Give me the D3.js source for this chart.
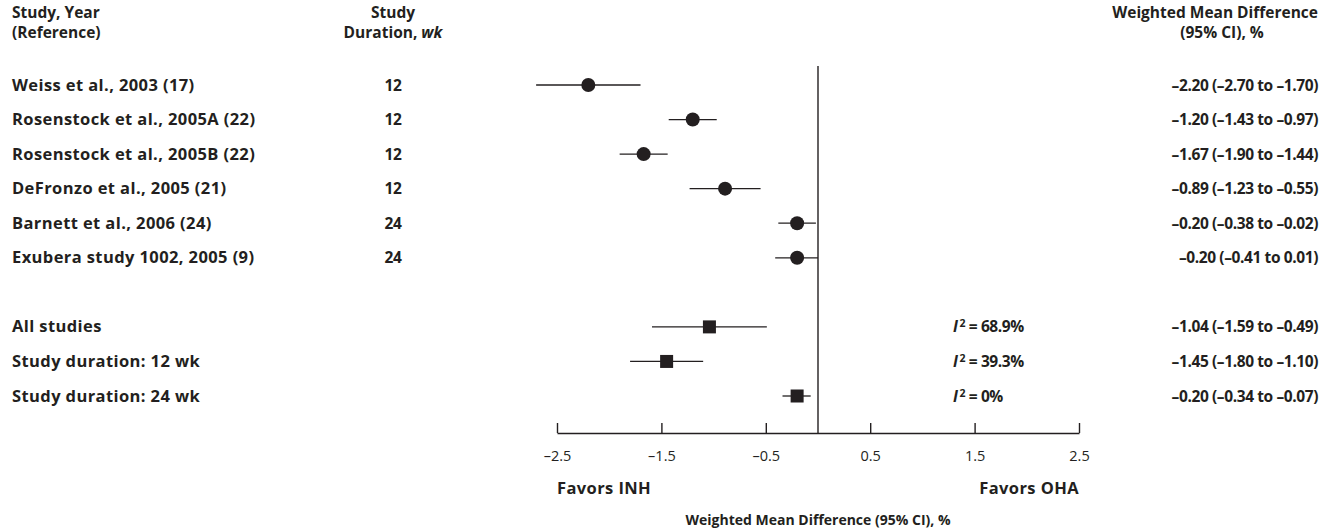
<!DOCTYPE html>
<html>
<head>
<meta charset="utf-8">
<script src="https://cdn.jsdelivr.net/npm/d3@7"></script>
<style>
  body { margin: 0; background: #fff; }
  text { font-family: "Open Sans", sans-serif; fill: #231f20; }
  .lbl { font-weight: 700; font-size: 16.5px; letter-spacing: 0.4px; }
  .hdr { font-weight: 700; font-size: 15.5px; }
  .num { font-weight: 700; font-size: 15.5px; letter-spacing: -0.4px; }
</style>
</head>
<body>
<div id="chart"></div>
<script>
// individual studies
var studies = ["Weiss et al., 2003 (17)", "Rosenstock et al., 2005A (22)", "Rosenstock et al., 2005B (22)",
  "DeFronzo et al., 2005 (21)", "Barnett et al., 2006 (24)", "Exubera study 1002, 2005 (9)"];
var durations = [12, 12, 12, 12, 24, 24];
var means = [-2.20, -1.20, -1.67, -0.89, -0.20, -0.20];
var lows = [-2.70, -1.43, -1.90, -1.23, -0.38, -0.41];
var highs = [-1.70, -0.97, -1.44, -0.55, -0.02, 0.01];

// pooled estimates
var pooled = ["All studies", "Study duration: 12 wk", "Study duration: 24 wk"];
var pooledI2 = ["68.9%", "39.3%", "0%"];
var pooledMeans = [-1.04, -1.45, -0.20];
var pooledLows = [-1.59, -1.80, -0.34];
var pooledHighs = [-0.49, -1.10, -0.07];

var tickValues = [-2.5, -1.5, -0.5, 0.5, 1.5, 2.5];

var width = 1335, height = 529;
var svg = d3.select("#chart").append("svg")
    .attr("width", width)
    .attr("height", height);

var x = d3.scaleLinear().domain([-2.5, 2.5]).range([557, 1079]);

// rows: 6 studies, a blank, then 3 pooled
var rowKeys = studies.concat(["gap"], pooled);
var y = d3.scalePoint().domain(rowKeys).range([85, 396]);

function fmt(v) {
  return (v < 0 ? "\u2013" : "") + Math.abs(v).toFixed(2);
}
function ciText(m, l, h) {
  return fmt(m) + " (" + fmt(l) + " to " + fmt(h) + ")";
}

var ink = "#231f20";

// header
var head = svg.append("g").attr("class", "hdr");
head.append("text").attr("x", 12).attr("y", 18).text("Study, Year");
head.append("text").attr("x", 12).attr("y", 38).text("(Reference)");
head.append("text").attr("x", 393).attr("y", 18).attr("text-anchor", "middle").text("Study");
var dur = head.append("text").attr("x", 393).attr("y", 38).attr("text-anchor", "middle");
dur.append("tspan").text("Duration, ");
dur.append("tspan").style("font-style", "italic").text("wk");
head.append("text").attr("x", 1318).attr("y", 18).attr("text-anchor", "end").text("Weighted Mean Difference");
head.append("text").attr("x", 1222).attr("y", 38).attr("text-anchor", "middle").text("(95% CI), %");

// zero line
svg.append("line")
    .attr("x1", x(0)).attr("x2", x(0))
    .attr("y1", 66).attr("y2", 433)
    .attr("stroke", ink).attr("stroke-width", 1.4);

// axis
var axis = svg.append("g")
    .attr("transform", "translate(0,433)")
    .call(d3.axisBottom(x).tickValues(tickValues).tickSize(10).tickSizeOuter(0)
      .tickFormat(function(d) { return (d < 0 ? "\u2013" : "") + Math.abs(d); }));
axis.select(".domain").attr("stroke", ink).attr("stroke-width", 1.4);
axis.selectAll(".tick line").attr("stroke", ink).attr("stroke-width", 1.4)
    .attr("y1", 0).attr("y2", -10);
axis.selectAll(".tick text").attr("y", 18).style("font-size", "14.5px")
    .style("font-family", "Open Sans, sans-serif").attr("fill", ink);

svg.append("text").attr("class", "lbl").attr("x", x(-2.5)).attr("y", 494).text("Favors INH");
svg.append("text").attr("class", "lbl").attr("x", x(2.5)).attr("y", 494).attr("text-anchor", "end").text("Favors OHA");
svg.append("text").attr("x", x(0)).attr("y", 525).attr("text-anchor", "middle").style("font-weight", 700)
    .style("font-size", "14px").text("Weighted Mean Difference (95% CI), %");

// study rows
var rows = svg.append("g").selectAll("g.study")
    .data(studies.map(function(s, i) {
      return {name: s, dur: durations[i], m: means[i], l: lows[i], h: highs[i]};
    }))
  .enter().append("g")
    .attr("transform", function(d) { return "translate(0," + y(d.name) + ")"; });

rows.append("text").attr("class", "lbl").attr("x", 12).attr("y", 5.5)
    .text(function(d) { return d.name; });
rows.append("text").attr("class", "num").attr("x", 393).attr("y", 5.5).attr("text-anchor", "middle")
    .text(function(d) { return d.dur; });
rows.append("line")
    .attr("x1", function(d) { return x(d.l); })
    .attr("x2", function(d) { return x(Math.min(d.h, 0)); })
    .attr("stroke", ink).attr("stroke-width", 1.3);
rows.append("circle").attr("cx", function(d) { return x(d.m); }).attr("r", 7).attr("fill", ink);
rows.append("text").attr("class", "num").attr("x", 1318).attr("y", 5.5).attr("text-anchor", "end")
    .text(function(d) { return ciText(d.m, d.l, d.h); });

// pooled rows
var prow = svg.append("g").selectAll("g.pooled")
    .data(pooled.map(function(s, i) {
      return {name: s, i2: pooledI2[i], m: pooledMeans[i], l: pooledLows[i], h: pooledHighs[i]};
    }))
  .enter().append("g")
    .attr("transform", function(d) { return "translate(0," + y(d.name) + ")"; });

prow.append("text").attr("class", "lbl").attr("x", 12).attr("y", 5.5)
    .text(function(d) { return d.name; });
prow.append("line")
    .attr("x1", function(d) { return x(d.l); })
    .attr("x2", function(d) { return x(d.h); })
    .attr("stroke", ink).attr("stroke-width", 1.3);
prow.append("rect")
    .attr("x", function(d) { return x(d.m) - 6.5; })
    .attr("y", -6.5).attr("width", 13).attr("height", 13).attr("fill", ink);
var i2 = prow.append("text").attr("class", "num").attr("x", 953).attr("y", 5.5);
i2.append("tspan").style("font-style", "italic").text("I");
i2.append("tspan").attr("dx", 2).attr("dy", -5).style("font-size", "10.5px").text("2");
i2.append("tspan").attr("dy", 5).text(function(d) { return " = " + d.i2; });
prow.append("text").attr("class", "num").attr("x", 1318).attr("y", 5.5).attr("text-anchor", "end")
    .text(function(d) { return ciText(d.m, d.l, d.h); });
</script>
</body>
</html>
